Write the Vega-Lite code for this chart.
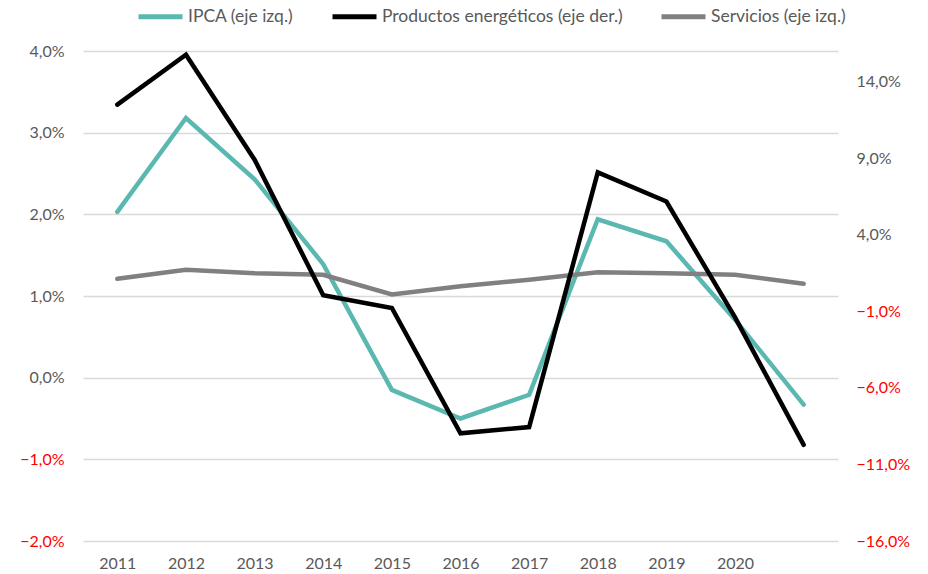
{
  "$schema": "https://vega.github.io/schema/vega-lite/v6.json",
  "width": 755,
  "height": 490,
  "autosize": {"type": "none"},
  "padding": {"left": 83, "top": 51, "right": 90, "bottom": 33},
  "background": "white",
  "config": {
    "font": "Lato",
    "view": {"stroke": null},
    "axis": {"labelFont": "Lato", "labelFontSize": 16, "labelColor": "#595959", "domain": false, "ticks": false, "title": null}
  },
  "data": {
    "values": [
      {"year": "2011", "serie": "IPCA (eje izq.)", "eje": "izq", "value": 2.03},
      {"year": "2012", "serie": "IPCA (eje izq.)", "eje": "izq", "value": 3.18},
      {"year": "2013", "serie": "IPCA (eje izq.)", "eje": "izq", "value": 2.43},
      {"year": "2014", "serie": "IPCA (eje izq.)", "eje": "izq", "value": 1.39},
      {"year": "2015", "serie": "IPCA (eje izq.)", "eje": "izq", "value": -0.15},
      {"year": "2016", "serie": "IPCA (eje izq.)", "eje": "izq", "value": -0.5},
      {"year": "2017", "serie": "IPCA (eje izq.)", "eje": "izq", "value": -0.21},
      {"year": "2018", "serie": "IPCA (eje izq.)", "eje": "izq", "value": 1.94},
      {"year": "2019", "serie": "IPCA (eje izq.)", "eje": "izq", "value": 1.67},
      {"year": "2020", "serie": "IPCA (eje izq.)", "eje": "izq", "value": 0.71},
      {"year": "2021", "serie": "IPCA (eje izq.)", "eje": "izq", "value": -0.33},
      {"year": "2011", "serie": "Servicios (eje izq.)", "eje": "izq", "value": 1.21},
      {"year": "2012", "serie": "Servicios (eje izq.)", "eje": "izq", "value": 1.32},
      {"year": "2013", "serie": "Servicios (eje izq.)", "eje": "izq", "value": 1.28},
      {"year": "2014", "serie": "Servicios (eje izq.)", "eje": "izq", "value": 1.26},
      {"year": "2015", "serie": "Servicios (eje izq.)", "eje": "izq", "value": 1.02},
      {"year": "2016", "serie": "Servicios (eje izq.)", "eje": "izq", "value": 1.12},
      {"year": "2017", "serie": "Servicios (eje izq.)", "eje": "izq", "value": 1.2},
      {"year": "2018", "serie": "Servicios (eje izq.)", "eje": "izq", "value": 1.29},
      {"year": "2019", "serie": "Servicios (eje izq.)", "eje": "izq", "value": 1.28},
      {"year": "2020", "serie": "Servicios (eje izq.)", "eje": "izq", "value": 1.26},
      {"year": "2021", "serie": "Servicios (eje izq.)", "eje": "izq", "value": 1.15},
      {"year": "2011", "serie": "Productos energéticos (eje der.)", "eje": "der", "value": 12.5},
      {"year": "2012", "serie": "Productos energéticos (eje der.)", "eje": "der", "value": 15.76},
      {"year": "2013", "serie": "Productos energéticos (eje der.)", "eje": "der", "value": 8.9},
      {"year": "2014", "serie": "Productos energéticos (eje der.)", "eje": "der", "value": 0.05},
      {"year": "2015", "serie": "Productos energéticos (eje der.)", "eje": "der", "value": -0.78},
      {"year": "2016", "serie": "Productos energéticos (eje der.)", "eje": "der", "value": -8.97},
      {"year": "2017", "serie": "Productos energéticos (eje der.)", "eje": "der", "value": -8.56},
      {"year": "2018", "serie": "Productos energéticos (eje der.)", "eje": "der", "value": 8.07},
      {"year": "2019", "serie": "Productos energéticos (eje der.)", "eje": "der", "value": 6.17},
      {"year": "2020", "serie": "Productos energéticos (eje der.)", "eje": "der", "value": -1.4},
      {"year": "2021", "serie": "Productos energéticos (eje der.)", "eje": "der", "value": -9.72}
    ]
  },
  "encoding": {
    "x": {
      "field": "year",
      "type": "ordinal",
      "scale": {"type": "point", "padding": 0.5},
      "axis": {
        "values": ["2011", "2012", "2013", "2014", "2015", "2016", "2017", "2018", "2019", "2020"],
        "labelAngle": 0,
        "labelPadding": 14,
        "grid": false
      }
    },
    "color": {
      "field": "serie",
      "type": "nominal",
      "scale": {
        "domain": ["IPCA (eje izq.)", "Productos energéticos (eje der.)", "Servicios (eje izq.)"],
        "range": ["#5BB8B1", "#000000", "#808080"]
      },
      "legend": {
        "title": null,
        "orient": "none",
        "direction": "horizontal",
        "columns": 3,
        "legendX": 53,
        "legendY": -59,
        "symbolType": "stroke",
        "symbolSize": 1936,
        "symbolStrokeWidth": 5,
        "labelFont": "Lato",
        "labelFontSize": 17.5,
        "labelColor": "#595959",
        "labelLimit": 400,
        "labelOffset": 3,
        "columnPadding": 28
      }
    }
  },
  "layer": [
    {
      "transform": [{"filter": "datum.eje == 'izq'"}],
      "mark": {"type": "line", "strokeWidth": 4.5, "strokeCap": "round"},
      "encoding": {
        "y": {
          "field": "value",
          "type": "quantitative",
          "scale": {"domain": [-2, 4], "nice": false, "zero": false},
          "axis": {
            "orient": "left",
            "values": [-2, -1, 0, 1, 2, 3, 4],
            "labelExpr": "replace(format(datum.value, '.1f'), '.', ',') + '%'",
            "labelColor": {"condition": {"test": "datum.value < 0", "value": "#FF0000"}, "value": "#595959"},
            "labelPadding": 19,
            "grid": true,
            "gridColor": "#D9D9D9",
            "gridWidth": 1.3
          }
        }
      }
    },
    {
      "transform": [{"filter": "datum.eje == 'der'"}],
      "mark": {"type": "line", "strokeWidth": 4.5, "strokeCap": "round"},
      "encoding": {
        "y": {
          "field": "value",
          "type": "quantitative",
          "scale": {"domain": [-16, 16], "nice": false, "zero": false},
          "axis": {
            "orient": "right",
            "values": [-16, -11, -6, -1, 4, 9, 14],
            "labelExpr": "replace(format(datum.value, '.1f'), '.', ',') + '%'",
            "labelColor": {"condition": {"test": "datum.value < 0", "value": "#FF0000"}, "value": "#595959"},
            "labelPadding": 18,
            "grid": false
          }
        }
      }
    }
  ],
  "resolve": {"scale": {"y": "independent"}}
}
